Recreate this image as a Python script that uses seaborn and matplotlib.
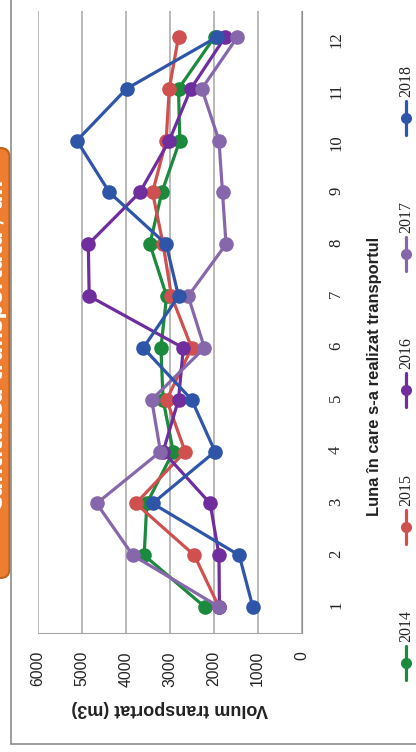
import matplotlib
matplotlib.use("Agg")
import matplotlib.pyplot as plt
import seaborn as sns
import pandas as pd
from matplotlib.patches import FancyBboxPatch

# Monthly transported volume (m3) per year
months = list(range(1, 13))
years = ["2014", "2015", "2016", "2017", "2018"]
vol_2014 = [2200, 3580, 3520, 2920, 3150, 3200, 3070, 3450, 3180, 2770, 2800, 1980]
vol_2015 = [1880, 2440, 3770, 2650, 3070, 2500, 2960, 3150, 3390, 3080, 3010, 2800]
vol_2016 = [1870, 1880, 2080, 3150, 2800, 2690, 4830, 4850, 3680, 3010, 2520, 1740]
vol_2017 = [1870, 3840, 4660, 3210, 3410, 2210, 2580, 1720, 1800, 1880, 2270, 1460]
vol_2018 = [1110, 1420, 3390, 1970, 2500, 3600, 2800, 3080, 4370, 5110, 3980, 1920]
series = [vol_2014, vol_2015, vol_2016, vol_2017, vol_2018]
colors = ["#1b8a3c", "#d0504f", "#6f2d9e", "#8767ab", "#2f55a8"]

x_title = "Luna în care s-a realizat transportul"
y_title = "Volum transportat (m3)"
banner = "Cantitatea transportată / an"

df = pd.DataFrame({
    "luna": months * len(years),
    "volum": [v for s in series for v in s],
    "an": [y for y in years for _ in months],
})

sns.set_style("white")
plt.rcParams["font.family"] = ["Liberation Sans", "DejaVu Sans"]
serif = ["Liberation Serif", "DejaVu Serif"]

W, H = 416, 752
fig = plt.figure(figsize=(W / 100, H / 100), dpi=100)


def frame(x0, y0, x1, y1):
    return [x0 / W, 1 - y1 / H, (x1 - x0) / W, (y1 - y0) / H]


# page-level layer in pixel units for the border, banner and legend
bg = fig.add_axes([0, 0, 1, 1], zorder=0)
bg.set_xlim(0, W)
bg.set_ylim(H, 0)
bg.axis("off")

ax = fig.add_axes(frame(37.7, 11, 301.7, 633), zorder=1)
sns.lineplot(data=df, x="volum", y="luna", hue="an", hue_order=years,
             palette=colors, orient="y", estimator=None, sort=False,
             marker="o", markersize=10.5, markeredgewidth=0, linewidth=2.3,
             legend=False, ax=ax)

ax.set_xlim(6000, 0)
ax.set_ylim(0.5, 12.5)
ax.set_xticks(range(0, 7000, 1000))
ax.set_yticks(months)
ax.grid(False)
ax.xaxis.grid(True, color="#a6a6a6", linewidth=1.1)
ax.spines["left"].set_visible(False)
ax.spines["top"].set_visible(False)
ax.spines["right"].set_color("#8c8c8c")
ax.spines["bottom"].set_color("#a6a6a6")
ax.yaxis.tick_right()
ax.tick_params(axis="x", direction="out", length=7, width=1, color="#a6a6a6",
               pad=6, labelrotation=90, labelsize=11.3, labelcolor="#222222")
ax.tick_params(axis="y", length=0, pad=19, labelrotation=90, labelsize=12,
               labelcolor="#222222")
for lab in ax.get_yticklabels():
    lab.set_family(serif)

ax.set_xlabel(y_title, rotation=180, fontsize=13, fontweight="bold", labelpad=10,
              color="#222222")
ax.set_ylabel(x_title, fontsize=11.9, fontweight="bold", color="#222222")
ax.yaxis.set_label_position("right")
ax.yaxis.set_label_coords((374 - 37.7) / 264, (633 - 376) / 622)
ax.yaxis.label.set(rotation=90, ha="center", va="center")

# outer chart border
bg.plot([11, 11], [0, 744], color="#8c8c8c", lw=1.2)
bg.plot([11, W], [744, 744], color="#8c8c8c", lw=1.2)

# legend, drawn vertically along the right edge
legend_y = [663, 527, 390, 254, 118]
for yr, col, ly in zip(years, colors, legend_y):
    bg.plot([406, 406], [ly - 17, ly + 17], color=col, lw=2.3)
    bg.plot([406], [ly], marker="o", ms=8, mew=0, color=col)
    bg.text(406, ly - 21, yr, rotation=90, ha="center", va="bottom",
            fontsize=11.5, color="#222222", family=serif)

# orange banner on the left edge
bg.add_patch(FancyBboxPatch((-30, 148), 39.5, 430,
                            boxstyle="round,pad=0,rounding_size=9",
                            fc="#ed7d31", ec="#c0611c", lw=1.5))
bg.text(7, 345, banner, rotation=90, ha="right", va="center", color="white",
        fontweight="bold", fontsize=15, family=["DejaVu Sans"])

fig.savefig("out.png", dpi=100)
